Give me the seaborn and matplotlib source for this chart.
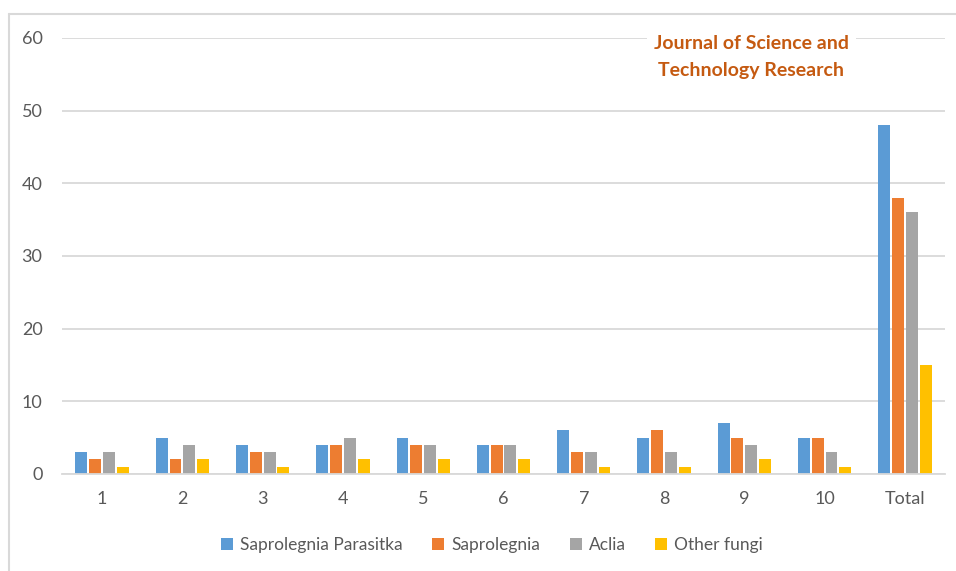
# Gráfica de barras agrupadas: hongos por muestra
import pandas as pd
import numpy as np
import matplotlib
matplotlib.use("Agg")
import matplotlib.pyplot as plt
from matplotlib.lines import Line2D
import seaborn as sns

# Datos
categorias = ['1', '2', '3', '4', '5', '6', '7', '8', '9', '10', 'Total']
series = ['Saprolegnia Parasitka', 'Saprolegnia', 'Aclia', 'Other fungi']
parasitka = [3, 5, 4, 4, 5, 4, 6, 5, 7, 5, 48]
saprolegnia = [2, 2, 3, 4, 4, 4, 3, 6, 5, 5, 38]
aclia = [3, 4, 3, 5, 4, 4, 3, 3, 4, 3, 36]
otros = [1, 2, 1, 2, 2, 2, 1, 1, 2, 1, 15]
colores = ['#5B9BD5', '#ED7D31', '#A5A5A5', '#FFC000']

# Tabla larga para seaborn
data = pd.DataFrame({
    'Muestra': categorias * 4,
    'Serie': [s for s in series for _ in categorias],
    'Valor': parasitka + saprolegnia + aclia + otros,
})

sns.set_style('white')
plt.rcParams['font.family'] = ['Lato', 'DejaVu Sans']

fig = plt.figure(figsize=(9.56, 5.71), dpi=100)
ax = fig.add_axes([62 / 956, 1 - 474 / 571, (945 - 62) / 956, (474 - 38) / 571])

sns.barplot(data=data, x='Muestra', y='Valor', hue='Serie', order=categorias,
            hue_order=series, palette=colores, width=0.69, gap=0.14,
            saturation=1, linewidth=0, ax=ax, legend=True)

ax.set_ylim(0, 60)
ax.set_yticks(range(0, 61, 10))
ax.set_xlim(-0.5, len(categorias) - 0.5)
ax.set_xlabel('')
ax.set_ylabel('')
ax.grid(axis='y', color='#D9D9D9', linewidth=1.3)
ax.set_axisbelow(True)
for lado in ['top', 'right', 'left']:
    ax.spines[lado].set_visible(False)
ax.spines['bottom'].set_color('#D9D9D9')
ax.spines['bottom'].set_linewidth(1.3)
ax.tick_params(length=0, labelsize=13, labelcolor='#595959')
ax.tick_params(axis='y', pad=14)
ax.tick_params(axis='x', pad=12)

# Leyenda abajo
ax.legend(loc='center', bbox_to_anchor=(492 / 956, 1 - 545 / 571),
          bbox_transform=fig.transFigure, ncol=4, frameon=False,
          fontsize=12.5, labelcolor='#595959', handlelength=0.7,
          handleheight=0.7, handletextpad=0.4, columnspacing=1.7)

# Texto de la revista
fig.text(751 / 956, 1 - 57 / 571, 'Journal of Science and\nTechnology Research',
         ha='center', va='center', fontsize=14, fontweight='bold',
         color='#C55A11', linespacing=1.65,
         bbox=dict(facecolor='white', edgecolor='none', pad=5))

# Borde del área del gráfico
fig.add_artist(Line2D([9 / 956, 1], [1 - 14 / 571, 1 - 14 / 571],
                      color='#D9D9D9', linewidth=1.5))
fig.add_artist(Line2D([9 / 956, 9 / 956], [0, 1 - 14 / 571],
                      color='#D9D9D9', linewidth=1.5))

fig.savefig('out.png', dpi=100)
